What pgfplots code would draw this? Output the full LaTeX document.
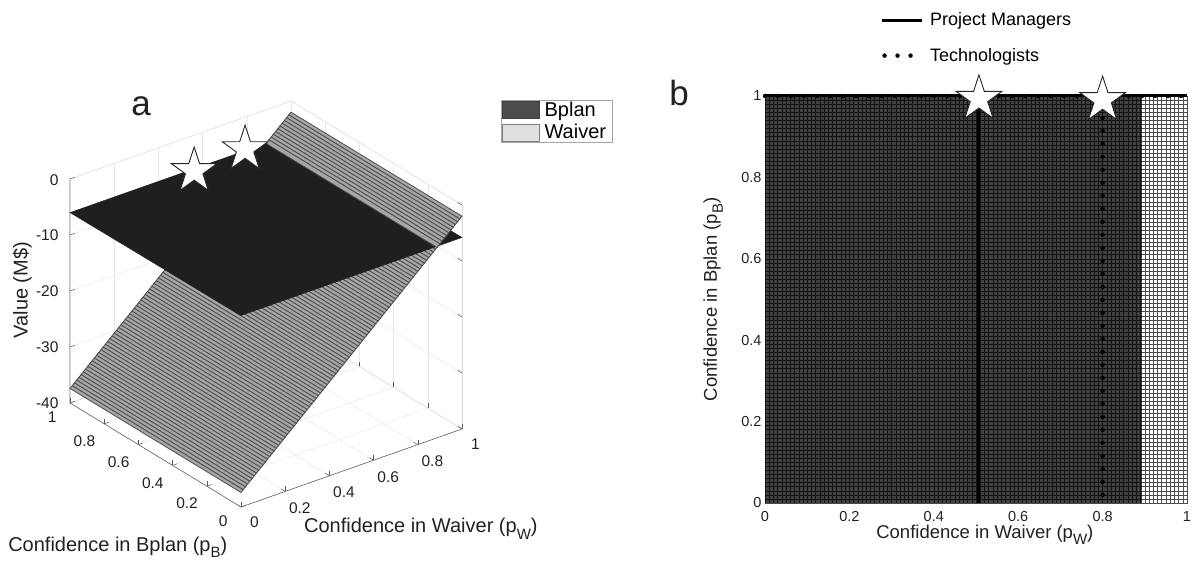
\documentclass[border=0pt]{standalone}
\usepackage{fontspec}
\setmainfont{Liberation Sans}
\usepackage{pgfplots}
\pgfplotsset{compat=1.18}
\definecolor{axisgray}{gray}{0.35}
\definecolor{textgray}{gray}{0.13}
\definecolor{stripe}{gray}{0.3}
\pgfdeclareplotmark{bigstar}{%
  \pgfpathmoveto{\pgfpointpolar{90}{\pgfplotmarksize}}%
  \pgfpathlineto{\pgfpointpolar{126}{0.382\pgfplotmarksize}}%
  \pgfpathlineto{\pgfpointpolar{162}{\pgfplotmarksize}}%
  \pgfpathlineto{\pgfpointpolar{198}{0.382\pgfplotmarksize}}%
  \pgfpathlineto{\pgfpointpolar{234}{\pgfplotmarksize}}%
  \pgfpathlineto{\pgfpointpolar{270}{0.382\pgfplotmarksize}}%
  \pgfpathlineto{\pgfpointpolar{306}{\pgfplotmarksize}}%
  \pgfpathlineto{\pgfpointpolar{342}{0.382\pgfplotmarksize}}%
  \pgfpathlineto{\pgfpointpolar{18}{\pgfplotmarksize}}%
  \pgfpathlineto{\pgfpointpolar{54}{0.382\pgfplotmarksize}}%
  \pgfpathclose
  \pgfusepathqfillstroke
}
\pgfplotsset{
  ticklabels/.style={
    /pgf/number format/assume math mode=true,
    /pgf/number format/fixed,
    tick label style={font=\fontsize{14.5}{16}\selectfont, text=textgray},
    label style={font=\fontsize{18.5}{21}\selectfont, text=textgray},
  }
}
\newcommand{\sbs}[1]{\raisebox{-0.32em}{\fontsize{15}{16}\selectfont #1}}
\begin{document}
\begin{tikzpicture}[x=1pt,y=1pt]
\useasboundingbox (0,0) rectangle (1192,560);
\node[font=\fontsize{35}{38}\selectfont, text=textgray] at (141,454) {a};
\node[font=\fontsize{35}{38}\selectfont, text=textgray] at (679,467) {b};

% Panel a
\begin{axis}[
  at={(70pt,53pt)}, anchor=south west,
  x={(221pt,78pt)}, y={(-171pt,104pt)}, z={(0pt,5.6pt)},
  xmin=0,xmax=1,ymin=0,ymax=1,zmin=-40,zmax=0,
  clip=false,
  ticklabels,
  tick label style={font=\fontsize{15.5}{17}\selectfont},
  label style={font=\fontsize{20}{23}\selectfont},
  xtick={0,0.2,0.4,0.6,0.8,1}, ytick={0,0.2,0.4,0.6,0.8,1}, ztick={-40,-30,-20,-10,0},
  xtick pos=lower, ytick pos=lower, ztick pos=left,
  xticklabel style={xshift=8pt,yshift=-5pt},
  yticklabel style={xshift=-11pt,yshift=-5pt},
  zticklabel style={xshift=-8pt,yshift=-2pt},
  grid=major, grid style={gray!18, line width=0.5pt},
  axis line style={gray!30, line width=0.5pt},
  tick style={axisgray, line width=0.5pt},
  major tick length=5pt,
  xlabel={Confidence in Waiver (p\sbs{W})},
  ylabel={Confidence in Bplan (p\sbs{B})},
  zlabel={Value (M\$)},
  x label style={at={(axis description cs:0.895,-0.054)},anchor=center,rotate=0},
  y label style={at={(axis description cs:0.122,-0.099)},anchor=center,rotate=0},
  z label style={at={(axis description cs:-0.122,0.534)},anchor=center},
  legend style={at={(axis description cs:1.0995,1.002)},anchor=north west,draw=gray!70,
    font=\fontsize{20}{23}\selectfont, inner sep=1pt, row sep=5pt, cells={anchor=west},
    nodes={inner xsep=5pt,inner ysep=0pt}},
  legend image code/.code={\draw[#1] (0pt,-8.5pt) rectangle (37pt,8.5pt);},
]
\addlegendimage{fill=black!70,draw=black!75}
\addlegendentry{Bplan}
\addlegendimage{fill=black!12,draw=black!50}
\addlegendentry{Waiver}

\draw[axisgray, line width=0.5pt] (axis cs:1,0,-40) -- (axis cs:0,0,-40) -- (axis cs:0,1,-40) -- (axis cs:0,1,0);

\addplot3[surf, forget plot, shader=faceted, faceted color=stripe, line width=0.8pt,
  colormap={wv}{gray(0cm)=(0.65); gray(1cm)=(0.65)}, mesh/rows=2] coordinates {
(0.00,0,-37.40)(0.01,0,-37.05)(0.02,0,-36.69)(0.03,0,-36.34)(0.04,0,-35.98)(0.05,0,-35.63)(0.06,0,-35.28)(0.07,0,-34.92)(0.08,0,-34.57)(0.09,0,-34.21)
(0.10,0,-33.86)(0.11,0,-33.51)(0.12,0,-33.15)(0.13,0,-32.80)(0.14,0,-32.44)(0.15,0,-32.09)(0.16,0,-31.74)(0.17,0,-31.38)(0.18,0,-31.03)(0.19,0,-30.67)
(0.20,0,-30.32)(0.21,0,-29.97)(0.22,0,-29.61)(0.23,0,-29.26)(0.24,0,-28.90)(0.25,0,-28.55)(0.26,0,-28.20)(0.27,0,-27.84)(0.28,0,-27.49)(0.29,0,-27.13)
(0.30,0,-26.78)(0.31,0,-26.43)(0.32,0,-26.07)(0.33,0,-25.72)(0.34,0,-25.36)(0.35,0,-25.01)(0.36,0,-24.66)(0.37,0,-24.30)(0.38,0,-23.95)(0.39,0,-23.59)
(0.40,0,-23.24)(0.41,0,-22.89)(0.42,0,-22.53)(0.43,0,-22.18)(0.44,0,-21.82)(0.45,0,-21.47)(0.46,0,-21.12)(0.47,0,-20.76)(0.48,0,-20.41)(0.49,0,-20.05)
(0.50,0,-19.70)(0.51,0,-19.35)(0.52,0,-18.99)(0.53,0,-18.64)(0.54,0,-18.28)(0.55,0,-17.93)(0.56,0,-17.58)(0.57,0,-17.22)(0.58,0,-16.87)(0.59,0,-16.51)
(0.60,0,-16.16)(0.61,0,-15.81)(0.62,0,-15.45)(0.63,0,-15.10)(0.64,0,-14.74)(0.65,0,-14.39)(0.66,0,-14.04)(0.67,0,-13.68)(0.68,0,-13.33)(0.69,0,-12.97)
(0.70,0,-12.62)(0.71,0,-12.27)(0.72,0,-11.91)(0.73,0,-11.56)(0.74,0,-11.20)(0.75,0,-10.85)(0.76,0,-10.50)(0.77,0,-10.14)(0.78,0,-9.79)(0.79,0,-9.43)
(0.80,0,-9.08)(0.81,0,-8.73)(0.82,0,-8.37)(0.83,0,-8.02)(0.84,0,-7.66)(0.85,0,-7.31)(0.86,0,-6.96)(0.87,0,-6.60)(0.88,0,-6.25)(0.887,0,-6.00)
(0.00,1,-37.40)(0.01,1,-37.05)(0.02,1,-36.69)(0.03,1,-36.34)(0.04,1,-35.98)(0.05,1,-35.63)(0.06,1,-35.28)(0.07,1,-34.92)(0.08,1,-34.57)(0.09,1,-34.21)
(0.10,1,-33.86)(0.11,1,-33.51)(0.12,1,-33.15)(0.13,1,-32.80)(0.14,1,-32.44)(0.15,1,-32.09)(0.16,1,-31.74)(0.17,1,-31.38)(0.18,1,-31.03)(0.19,1,-30.67)
(0.20,1,-30.32)(0.21,1,-29.97)(0.22,1,-29.61)(0.23,1,-29.26)(0.24,1,-28.90)(0.25,1,-28.55)(0.26,1,-28.20)(0.27,1,-27.84)(0.28,1,-27.49)(0.29,1,-27.13)
(0.30,1,-26.78)(0.31,1,-26.43)(0.32,1,-26.07)(0.33,1,-25.72)(0.34,1,-25.36)(0.35,1,-25.01)(0.36,1,-24.66)(0.37,1,-24.30)(0.38,1,-23.95)(0.39,1,-23.59)
(0.40,1,-23.24)(0.41,1,-22.89)(0.42,1,-22.53)(0.43,1,-22.18)(0.44,1,-21.82)(0.45,1,-21.47)(0.46,1,-21.12)(0.47,1,-20.76)(0.48,1,-20.41)(0.49,1,-20.05)
(0.50,1,-19.70)(0.51,1,-19.35)(0.52,1,-18.99)(0.53,1,-18.64)(0.54,1,-18.28)(0.55,1,-17.93)(0.56,1,-17.58)(0.57,1,-17.22)(0.58,1,-16.87)(0.59,1,-16.51)
(0.60,1,-16.16)(0.61,1,-15.81)(0.62,1,-15.45)(0.63,1,-15.10)(0.64,1,-14.74)(0.65,1,-14.39)(0.66,1,-14.04)(0.67,1,-13.68)(0.68,1,-13.33)(0.69,1,-12.97)
(0.70,1,-12.62)(0.71,1,-12.27)(0.72,1,-11.91)(0.73,1,-11.56)(0.74,1,-11.20)(0.75,1,-10.85)(0.76,1,-10.50)(0.77,1,-10.14)(0.78,1,-9.79)(0.79,1,-9.43)
(0.80,1,-9.08)(0.81,1,-8.73)(0.82,1,-8.37)(0.83,1,-8.02)(0.84,1,-7.66)(0.85,1,-7.31)(0.86,1,-6.96)(0.87,1,-6.60)(0.88,1,-6.25)(0.887,1,-6.00)
};
\addplot3[surf, forget plot, shader=flat, colormap={bp}{gray(0cm)=(0.12); gray(1cm)=(0.12)}, mesh/rows=2] coordinates {
(0,0,-5.8)(1,0,-5.8)
(0,1,-6.0)(1,1,-6.0)
};
\addplot3[surf, forget plot, shader=faceted, faceted color=stripe, line width=0.8pt,
  colormap={wv}{gray(0cm)=(0.65); gray(1cm)=(0.65)}, mesh/rows=2] coordinates {
(0.887,0,-6.00)(0.90,0,-5.54)(0.91,0,-5.19)(0.92,0,-4.83)(0.93,0,-4.48)(0.94,0,-4.12)(0.95,0,-3.77)(0.96,0,-3.42)(0.97,0,-3.06)(0.98,0,-2.71)(0.99,0,-2.35)(1.00,0,-2.00)
(0.887,1,-6.00)(0.90,1,-5.54)(0.91,1,-5.19)(0.92,1,-4.83)(0.93,1,-4.48)(0.94,1,-4.12)(0.95,1,-3.77)(0.96,1,-3.42)(0.97,1,-3.06)(0.98,1,-2.71)(0.99,1,-2.35)(1.00,1,-2.00)
};
\addplot3[forget plot, only marks, mark=bigstar, mark size=24pt,
  mark options={fill=white, draw=black!85, line width=0.9pt}] coordinates {
(0.5,0.92,-4.05) (0.8,1.01,-6.0)
};
\end{axis}

% Panel b
\begin{axis}[
  at={(765pt,57pt)}, anchor=south west,
  width=422pt, height=407pt, scale only axis,
  xmin=0,xmax=1,ymin=0,ymax=1,
  clip=false,
  ticklabels,
  xtick={0,0.2,0.4,0.6,0.8,1}, ytick={0,0.2,0.4,0.6,0.8,1},
  minor xtick={0,0.01,...,1.001}, minor ytick={0,0.01,...,1.001},
  grid=minor, minor grid style={black!70, line width=0.5pt},
  minor tick length=0pt, major tick length=0pt,
  xticklabel style={yshift=-5pt},
  axis line style={black!70, line width=0.5pt},
  xlabel={Confidence in Waiver (p\sbs{W})},
  ylabel={Confidence in Bplan (p\sbs{B})},
  x label style={at={(axis description cs:0.521,-0.077)},anchor=center},
  y label style={at={(axis description cs:-0.123,0.5)},anchor=center},
  legend style={at={(axis description cs:0.265,1.071)},anchor=south west,draw=none,fill=none,
    font=\fontsize{18}{21}\selectfont, row sep=17pt, cells={anchor=west}},
  legend image code/.code={\draw[#1] (-5pt,0pt) -- (35pt,0pt);},
  legend style={nodes={inner xsep=7pt}},
]
\addplot[forget plot, draw=none, fill=black, fill opacity=0.75] coordinates {(0,0)(0.893,0)(0.893,1)(0,1)} -- cycle;
\addplot[black, line width=3pt] coordinates {(0.505,0)(0.505,1)};
\addlegendentry{Project Managers}
\addplot[black, line width=4.5pt, line cap=round, dash pattern=on 0pt off 13pt,
  legend image code/.code={\draw[black, line width=4.5pt, line cap=round, dash pattern=on 0pt off 13pt] (-2pt,0pt) -- (26pt,0pt);}] coordinates {(0.8,0.02)(0.8,1)};
\addlegendentry{Technologists}
\addplot[forget plot, black, line width=3pt] coordinates {(0,1)(1,1)};
\addplot[forget plot, black, line width=4.5pt, line cap=round, dash pattern=on 0pt off 13pt] coordinates {(0,1)(1,1)};
\addplot[forget plot, only marks, mark=bigstar, mark size=24pt,
  mark options={fill=white, draw=black!85, line width=0.9pt}] coordinates {(0.507,0.993)(0.8,0.99)};
\end{axis}
\end{tikzpicture}
\end{document}
